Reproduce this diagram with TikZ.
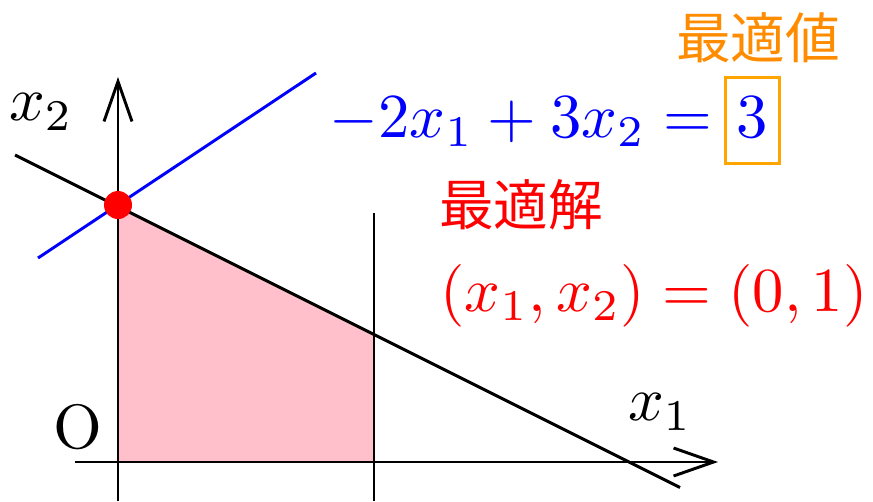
\documentclass[tikz,border=0pt]{standalone}
\usepackage{fontspec}
\newfontfamily\jpfont{Noto Sans CJK JP}
\usetikzlibrary{arrows.meta}
\definecolor{pinkfill}{RGB}{255,192,203}
\definecolor{optorange}{RGB}{255,140,0}
\definecolor{boxorange}{RGB}{255,165,0}
\definecolor{myblue}{RGB}{0,0,255}
\definecolor{myred}{RGB}{255,0,0}
\tikzset{
  axisline/.style={line width=2.2pt,black,-{Straight Barb[length=30pt,width=21pt]}},
  plainline/.style={line width=2.2pt,black},
  bigmath/.style={inner sep=0pt,font=\normalsize,scale=4.7},
  jplabel/.style={inner sep=0pt,font=\fontsize{41}{49}\selectfont\jpfont},
}
\begin{document}
\begin{tikzpicture}[x=0.75pt,y=-0.75pt]
\useasboundingbox (0,0) rectangle (873,501);
% coordinates
\coordinate (O) at (118,462);
\coordinate (xs) at (75,462);
\coordinate (xe) at (718,462);
\coordinate (ys) at (118,501);
\coordinate (ye) at (118,77);
\coordinate (vs) at (374,213);
\coordinate (ve) at (374,501);
\coordinate (ks) at (15,155);
\coordinate (ke) at (680,487.5);
\coordinate (bs) at (38,258);
\coordinate (be) at (316,73);
\coordinate (P1) at (374,462);
\coordinate (P2) at (374,334);
\coordinate (opt) at (118,205);
% feasible region
\fill[pinkfill] (O) -- (P1) -- (P2) -- (opt) -- cycle;
% lines
\draw[plainline] (vs) -- (ve);
\draw[plainline] (ks) -- (ke);
\draw[axisline] (xs) -- (xe);
\draw[axisline] (ys) -- (ye);
\draw[line width=2.2pt,myblue] (bs) -- (be);
\fill[myred] (opt) circle (14);
% labels
\node[bigmath] (lx2) at (41,112) {$x_2$};
\node[bigmath] (lx1) at (660,412) {$x_1$};
\node[bigmath] (lO) at (78,427) {O};
\node[bigmath,text=myblue,anchor=base east] (eq) at (713,137) {$-2x_1+3x_2=$};
\node[draw=boxorange,line width=2.2pt,minimum width=41pt,minimum height=64pt,inner sep=0pt] (box) at (752.5,120.5) {};
\node[bigmath,text=myblue,anchor=base] (val) at (752.5,137) {$3$};
\node[jplabel,text=optorange] (saiteki) at (758,38) {最適値};
\node[jplabel,text=myred] (kai) at (521,205) {最適解};
\node[bigmath,text=myred,anchor=base] (sol) at (654,311) {$(x_1,x_2)=(0,1)$};
\end{tikzpicture}
\end{document}
